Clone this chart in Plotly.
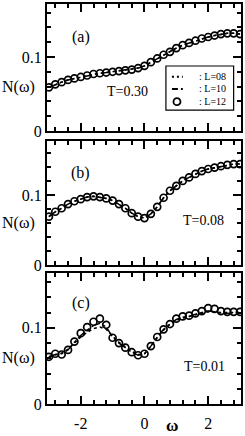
import plotly.graph_objects as go
from plotly.subplots import make_subplots

omega = [-3.0, -2.8, -2.6, -2.4, -2.2, -2.0, -1.8, -1.6, -1.4, -1.2, -1.0,
         -0.8, -0.6, -0.4, -0.2, 0.0, 0.2, 0.4, 0.6, 0.8, 1.0,
         1.2, 1.4, 1.6, 1.8, 2.0, 2.2, 2.4, 2.6, 2.8, 3.0]

# Panel (a) T=0.30
a_L08 = [0.059, 0.063, 0.066, 0.069, 0.071, 0.073, 0.075, 0.077, 0.078, 0.079, 0.080,
         0.081, 0.082, 0.083, 0.085, 0.088, 0.093, 0.098, 0.103, 0.107, 0.112,
         0.116, 0.119, 0.122, 0.125, 0.127, 0.129, 0.131, 0.132, 0.132, 0.131]
a_L10 = [0.059, 0.063, 0.066, 0.069, 0.071, 0.073, 0.075, 0.077, 0.078, 0.079, 0.080,
         0.081, 0.082, 0.083, 0.085, 0.088, 0.093, 0.098, 0.103, 0.107, 0.112,
         0.116, 0.119, 0.122, 0.125, 0.127, 0.129, 0.131, 0.132, 0.132, 0.131]
a_L12 = [0.059, 0.063, 0.066, 0.069, 0.071, 0.073, 0.075, 0.077, 0.078, 0.079, 0.080,
         0.081, 0.082, 0.083, 0.085, 0.088, 0.093, 0.098, 0.103, 0.107, 0.112,
         0.116, 0.119, 0.122, 0.125, 0.127, 0.129, 0.131, 0.132, 0.132, 0.131]

# Panel (b) T=0.08
b_L08 = [0.069, 0.076, 0.081, 0.087, 0.091, 0.094, 0.097, 0.098, 0.097, 0.095, 0.092,
         0.087, 0.081, 0.074, 0.069, 0.067, 0.073, 0.083, 0.096, 0.106, 0.113,
         0.120, 0.125, 0.130, 0.134, 0.137, 0.139, 0.141, 0.143, 0.144, 0.144]
b_L10 = [0.069, 0.076, 0.081, 0.087, 0.091, 0.094, 0.097, 0.098, 0.097, 0.095, 0.092,
         0.087, 0.081, 0.074, 0.069, 0.067, 0.073, 0.083, 0.096, 0.106, 0.113,
         0.120, 0.125, 0.130, 0.134, 0.137, 0.139, 0.141, 0.143, 0.144, 0.144]
b_L12 = [0.069, 0.076, 0.081, 0.087, 0.091, 0.094, 0.097, 0.098, 0.097, 0.095, 0.092,
         0.087, 0.081, 0.074, 0.069, 0.067, 0.073, 0.083, 0.096, 0.106, 0.113,
         0.120, 0.125, 0.130, 0.134, 0.137, 0.139, 0.141, 0.143, 0.144, 0.144]

# Panel (c) T=0.01
c_L08 = [0.062, 0.064, 0.067, 0.072, 0.080, 0.088, 0.094, 0.099, 0.101, 0.098, 0.089,
         0.081, 0.075, 0.069, 0.065, 0.066, 0.075, 0.087, 0.097, 0.105, 0.110,
         0.113, 0.115, 0.117, 0.119, 0.121, 0.121, 0.120, 0.120, 0.120, 0.120]
c_L10 = [0.062, 0.065, 0.066, 0.071, 0.081, 0.090, 0.097, 0.103, 0.106, 0.101, 0.088,
         0.080, 0.074, 0.068, 0.064, 0.066, 0.076, 0.088, 0.098, 0.105, 0.111,
         0.114, 0.115, 0.118, 0.120, 0.122, 0.121, 0.119, 0.119, 0.120, 0.120]
c_L12 = [0.062, 0.066, 0.065, 0.071, 0.082, 0.093, 0.101, 0.108, 0.112, 0.104, 0.087,
         0.080, 0.074, 0.068, 0.064, 0.066, 0.076, 0.088, 0.098, 0.105, 0.112,
         0.115, 0.116, 0.119, 0.122, 0.126, 0.125, 0.122, 0.121, 0.121, 0.121]

panel_labels = ["(a)", "(b)", "(c)"]
temps = ["T=0.30", "T=0.08", "T=0.01"]
legend_names = [": L=08", ": L=10", ": L=12"]
xtick_vals = [-2, 0, 2]
xtick_text = ["-2", "0", "2"]

FONT = "Liberation Serif"
W, H = 245, 436
ML, MR, MT, MB = 47, 4, 4, 32
PW = W - ML - MR
PH = H - MT - MB

fig = make_subplots(rows=3, cols=1, shared_xaxes=False, vertical_spacing=0.02)

panels = [(a_L08, a_L10, a_L12), (b_L08, b_L10, b_L12), (c_L08, c_L10, c_L12)]
for i, (l08, l10, l12) in enumerate(panels):
    r = i + 1
    fig.add_trace(go.Scatter(x=omega, y=l08, mode="lines",
                             line=dict(color="black", width=1.5, dash="dot"),
                             showlegend=False), row=r, col=1)
    fig.add_trace(go.Scatter(x=omega, y=l10, mode="lines",
                             line=dict(color="black", width=1.5, dash="dashdot"),
                             showlegend=False), row=r, col=1)
    fig.add_trace(go.Scatter(x=omega, y=l12, mode="markers",
                             marker=dict(symbol="circle-open", size=7, color="black",
                                         line=dict(width=1.7, color="black")),
                             showlegend=False), row=r, col=1)

domains = [[0.6825, 1.0], [0.3475, 0.6575], [0.0, 0.3275]]
yranges = [[0, 0.1716], [0, 0.177], [0, 0.172]]

axis_common = dict(showline=True, linecolor="black", linewidth=2, mirror="allticks",
                   ticks="inside", ticklen=8, tickwidth=1.5, tickcolor="black",
                   showgrid=False, zeroline=False, automargin=False,
                   tickfont=dict(family=FONT, size=16, color="black"))

for i in range(3):
    r = i + 1
    fig.update_yaxes(row=r, col=1, domain=domains[i], range=yranges[i],
                     tickvals=[0, 0.1], ticktext=["0", "0.1"],
                     minor=dict(dtick=0.02, tick0=0, ticks="inside", ticklen=4,
                                tickwidth=1.5, tickcolor="black"),
                     **axis_common)
    fig.update_xaxes(row=r, col=1, range=[-3.06, 3.03],
                     tickvals=xtick_vals, ticktext=xtick_text,
                     showticklabels=(r == 3), ticklabelstandoff=4,
                     minor=dict(dtick=0.4, tick0=0, ticks="inside", ticklen=4,
                                tickwidth=1.5, tickcolor="black"),
                     **axis_common)

# panel annotations
label_y = [0.127, 0.131, 0.133]
temp_pos = [(-0.54, 0.054), (1.85, 0.063), (1.88, 0.049)]
for i in range(3):
    xr = "x" if i == 0 else f"x{i+1}"
    yr = "y" if i == 0 else f"y{i+1}"
    fig.add_annotation(x=-2.0, y=label_y[i], xref=xr, yref=yr, text=panel_labels[i],
                       xanchor="center", yanchor="middle",
                       showarrow=False, font=dict(family=FONT, size=16, color="black"))
    fig.add_annotation(x=temp_pos[i][0], y=temp_pos[i][1], xref=xr, yref=yr, text=temps[i],
                       xanchor="center", yanchor="middle",
                       showarrow=False, font=dict(family=FONT, size=14, color="black"))
    fig.add_annotation(x=(18 - ML) / PW, y=0.06, xref="paper", yref=yr,
                       text="N(ω)", showarrow=False, xanchor="center", yanchor="middle",
                       font=dict(family=FONT, size=16, color="black"))

fig.add_annotation(x=(172 - ML) / PW, y=-(425 - (H - MB)) / PH, xref="paper", yref="paper",
                   text="<b>ω</b>", showarrow=False, xanchor="center", yanchor="middle",
                   font=dict(family=FONT, size=17, color="black"))

# manual legend in panel (a)
fig.add_shape(type="rect", xref="x domain", yref="y domain",
              x0=0.613, x1=0.962, y0=0.165, y1=0.512,
              line=dict(color="black", width=1.2), fillcolor="white", layer="above")
rows_y = [0.428, 0.331, 0.231]
fig.add_shape(type="line", xref="x domain", yref="y domain",
              x0=0.644, x1=0.70, y0=rows_y[0], y1=rows_y[0],
              line=dict(color="black", width=2, dash="2px,3px"), layer="above")
fig.add_shape(type="line", xref="x domain", yref="y domain",
              x0=0.644, x1=0.70, y0=rows_y[1], y1=rows_y[1],
              line=dict(color="black", width=2, dash="6px,3px,2px,10px"), layer="above")
fig.add_shape(type="circle", xref="x domain", yref="y domain",
              xsizemode="pixel", ysizemode="pixel",
              xanchor=0.670, yanchor=rows_y[2], x0=-3.5, x1=3.5, y0=-3.5, y1=3.5,
              line=dict(color="black", width=1.8), layer="above")
for k in range(3):
    fig.add_annotation(x=0.772, y=rows_y[k], xref="x domain", yref="y domain",
                       text=legend_names[k], xanchor="left", yanchor="middle",
                       showarrow=False,
                       font=dict(family=FONT, size=10, color="black"))

fig.update_layout(width=W, height=H, margin=dict(l=ML, r=MR, t=MT, b=MB, autoexpand=False),
                  paper_bgcolor="white", plot_bgcolor="white", showlegend=False)

fig.write_html("out.html", config={"displayModeBar": False},
               post_script="document.body.style.margin='0';document.body.style.overflow='hidden';")
